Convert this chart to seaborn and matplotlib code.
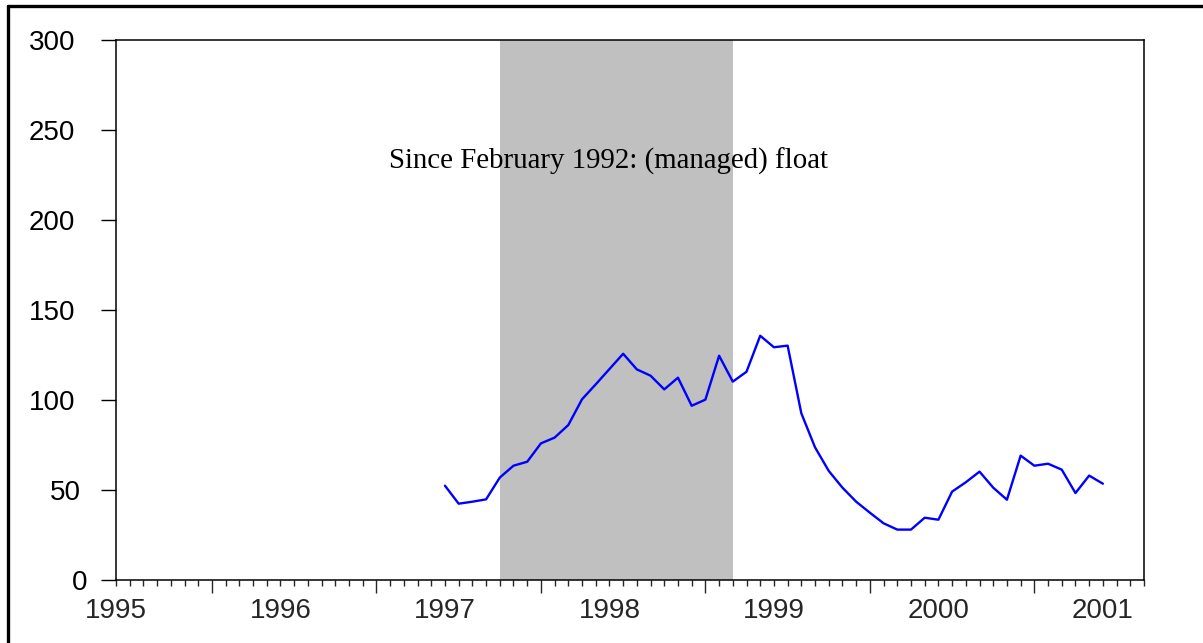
import numpy as np
import pandas as pd
import matplotlib
matplotlib.use("Agg")
import matplotlib.pyplot as plt
import matplotlib.transforms as mtransforms
from matplotlib.lines import Line2D
import seaborn as sns

# month index, 0 = first month on the axis
months = list(range(24, 73))
values = [52.4, 42.4, 43.5, 44.8, 56.9, 63.5, 65.7, 75.9, 79.1, 86.1,
          100.4, 108.7, 117.2, 125.7, 117.0, 113.5, 105.9, 112.4, 96.8, 100.2,
          124.6, 110.2, 115.7, 135.7, 129.3, 130.2, 92.6, 73.7, 60.6, 51.3,
          43.5, 37.4, 31.5, 28.0, 28.0, 34.6, 33.5, 49.1, 54.3, 60.2,
          51.3, 44.6, 69.1, 63.5, 64.6, 61.3, 48.3, 58.0, 53.5]
year_labels = ['1995', '1996', '1997', '1998', '1999', '2000', '2001']
year_pos = [0, 12, 24, 36, 48, 60, 72]
long_ticks = [7, 19, 31, 43, 55, 67]
shade_start, shade_end = 28, 45
note = 'Since February 1992: (managed) float'
yticks = [0, 50, 100, 150, 200, 250, 300]

df = pd.DataFrame({'month': months, 'value': values})

sns.set_style("white")
plt.rcParams['font.family'] = ['Liberation Sans', 'DejaVu Sans']

fig = plt.figure(figsize=(12.03, 6.43), dpi=100)
ax = fig.add_axes([116/1203, 63/643, (1144-116)/1203, (580-40)/643])

ax.axvspan(shade_start, shade_end, color='#c0c0c0', lw=0, zorder=0)
sns.lineplot(data=df, x='month', y='value', ax=ax, color='#0000ff', lw=1.7)

ax.set_xlim(0, 75)
ax.set_ylim(0, 300)
ax.set_xlabel('')
ax.set_ylabel('')

ax.set_yticks(yticks)
ax.set_yticklabels([str(v) for v in yticks])
ax.tick_params(axis='y', direction='out', length=10.8, width=1, pad=18.5,
               labelsize=20, colors='black', left=True)

ax.xaxis.remove_overlapping_locs = False
ax.set_xticks(year_pos)
ax.set_xticklabels(year_labels)
ax.set_xticks(list(range(0, 76)), minor=True)
ax.tick_params(axis='x', which='major', length=0, pad=13, labelsize=20)
ax.tick_params(axis='x', which='minor', direction='out', length=4, width=1,
               bottom=True)
mticks = ax.xaxis.get_minor_ticks(76)
for i, t in enumerate(mticks):
    if i in long_ticks:
        t.tick1line.set_markersize(9)

# shorter y labels sit a little further right
for lab in ax.get_yticklabels():
    n = len(lab.get_text())
    dx = (3 - n) * 6 / 100
    lab.set_transform(lab.get_transform() +
                      mtransforms.ScaledTranslation(dx, 0, fig.dpi_scale_trans))

for s in ax.spines.values():
    s.set_visible(True)
    s.set_color('black')
    s.set_linewidth(1.1)

ax.text(35.9, 228.3, note, ha='center', va='baseline', fontsize=20.8,
        family=['Liberation Serif', 'DejaVu Serif'], color='black')

# outer frame (left and top edges visible)
fig.add_artist(Line2D([8.3/1203, 8.3/1203], [-0.05, 1 - 5.7/643],
                      transform=fig.transFigure, color='black', lw=2.4))
fig.add_artist(Line2D([8.3/1203, 1.05], [1 - 5.7/643, 1 - 5.7/643],
                      transform=fig.transFigure, color='black', lw=2.4))

fig.savefig('out.png', dpi=100)
